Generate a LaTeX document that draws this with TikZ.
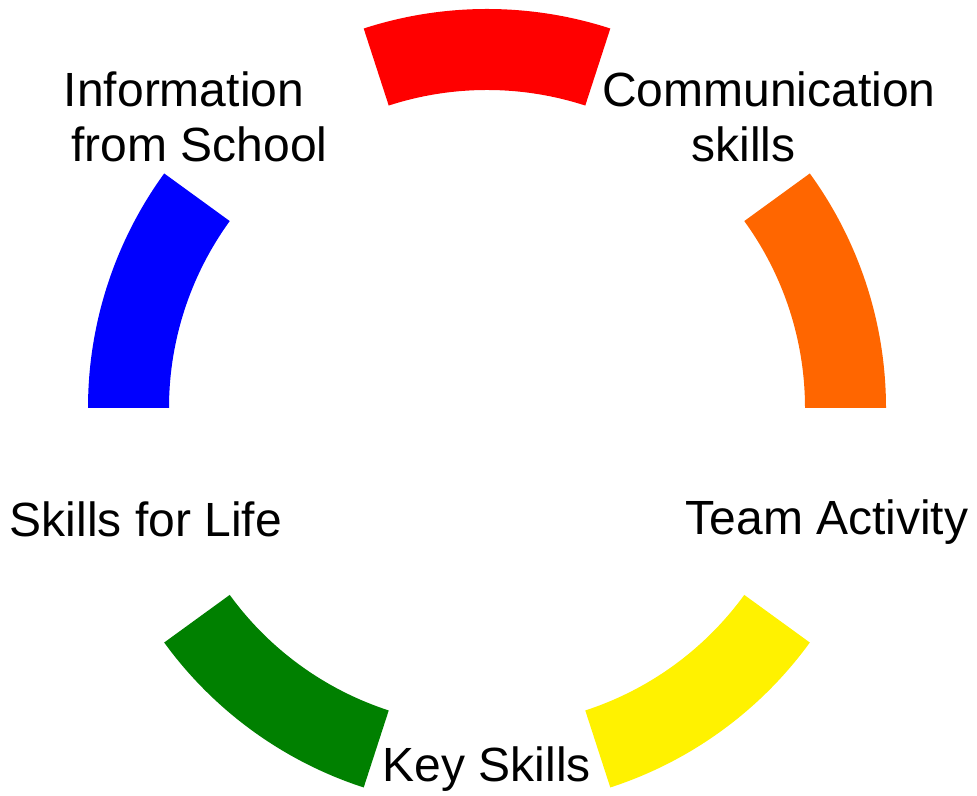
\documentclass[tikz,border=0pt]{standalone}
\usepackage{fontspec}
\setmainfont{Liberation Sans}
\usepackage{tikz}
\usetikzlibrary{positioning}
\definecolor{segorange}{RGB}{255,102,0}
\definecolor{seggreen}{RGB}{0,128,0}
\tikzset{
    segment/.style = {draw = none},
    itemtext/.style = {font = \fontsize{48}{55}\selectfont, align = center, inner sep = 0pt, anchor = base}
}

\begin{document}
\begin{tikzpicture}[x = 1pt, y = 1pt]
        \useasboundingbox (0,0) rectangle (977,795);
        \coordinate (o) at (487,387);
        % ring segments
        \foreach \a/\c [evaluate = \a as \b using \a+36] in {72/red, 0/segorange, 288/yellow, 216/seggreen, 144/blue}
            \fill [segment, \c, shift = {(o)}] (\a:399) arc [start angle = \a, end angle = \b, radius = 399]
                -- (\b:318) arc [start angle = \b, end angle = \a, radius = 318] -- cycle;
        % labels
        \node [itemtext] (comm) at (769,633) {Communication\\\hspace*{-51pt}skills};
        \node [itemtext] (team) at (827,260) {Team Activity};
        \node [itemtext] (key) at (487,13) {Key Skills};
        \node [itemtext] (life) at (146,258) {Skills for Life};
        \node [itemtext] (info) at (184,633) {Information\\\hspace*{31pt}from School};
    \end{tikzpicture}
\end{document}
